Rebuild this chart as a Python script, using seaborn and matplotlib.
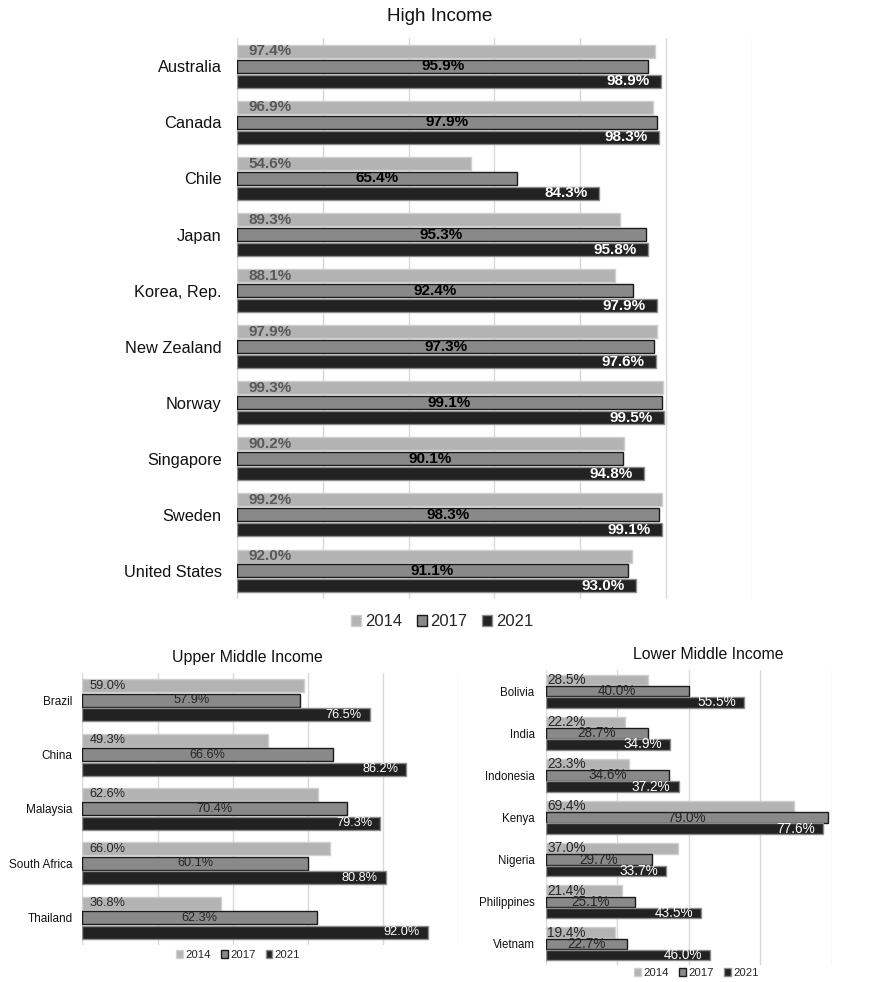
import matplotlib
matplotlib.use('Agg')
import matplotlib.pyplot as plt
from matplotlib.patches import Patch
import seaborn as sns
import pandas as pd

years = ['2014', '2017', '2021']

high_countries = ['Australia', 'Canada', 'Chile', 'Japan', 'Korea, Rep.',
                  'New Zealand', 'Norway', 'Singapore', 'Sweden', 'United States']
high_2014 = [97.4, 96.9, 54.6, 89.3, 88.1, 97.9, 99.3, 90.2, 99.2, 92.0]
high_2017 = [95.9, 97.9, 65.4, 95.3, 92.4, 97.3, 99.1, 90.1, 98.3, 91.1]
high_2021 = [98.9, 98.3, 84.3, 95.8, 97.9, 97.6, 99.5, 94.8, 99.1, 93.0]

upper_countries = ['Brazil', 'China', 'Malaysia', 'South Africa', 'Thailand']
upper_2014 = [59.0, 49.3, 62.6, 66.0, 36.8]
upper_2017 = [57.9, 66.6, 70.4, 60.1, 62.3]
upper_2021 = [76.5, 86.2, 79.3, 80.8, 92.0]

lower_countries = ['Bolivia', 'India', 'Indonesia', 'Kenya', 'Nigeria',
                   'Philippines', 'Vietnam']
lower_2014 = [28.5, 22.2, 23.3, 69.4, 37.0, 21.4, 19.4]
lower_2017 = [40.0, 28.7, 34.6, 79.0, 29.7, 25.1, 22.7]
lower_2021 = [55.5, 34.9, 37.2, 77.6, 33.7, 43.5, 46.0]

fill = {'2014': '#b3b3b3', '2017': '#898989', '2021': '#222222'}
edge = {'2014': '#cfcfcf', '2017': '#1a1a1a', '2021': '#8c8c8c'}

sns.set_style('white')
plt.rcParams['font.family'] = ['Liberation Sans', 'DejaVu Sans']


def make_df(countries, v14, v17, v21):
    rows = []
    for yr, vals in zip(years, [v14, v17, v21]):
        for c, v in zip(countries, vals):
            rows.append({'country': c, 'year': yr, 'value': v})
    return pd.DataFrame(rows)


def draw_panel(ax, df, countries, xmax, cat_size, val_size, bold,
               gap, lab_colors, pads, cat_pad):
    sns.barplot(data=df, y='country', x='value', hue='year', order=countries,
                hue_order=years, palette=fill, orient='h', width=0.8, gap=gap,
                saturation=1, errorbar=None, legend=False, linewidth=1, ax=ax)
    for yr, cont in zip(years, ax.containers):
        for rect in cont:
            rect.set_edgecolor(edge[yr])
            w = rect.get_width()
            yc = rect.get_y() + rect.get_height() / 2
            txt = f'{w:.1f}%'
            kw = dict(textcoords='offset points', va='center', fontsize=val_size,
                      color=lab_colors[yr],
                      fontweight='bold' if bold else 'normal')
            if yr == '2014':
                ax.annotate(txt, (rect.get_x(), yc), xytext=(pads[0], 0), ha='left', **kw)
            elif yr == '2017':
                ax.annotate(txt, (rect.get_x() + w / 2, yc), xytext=(0, 0), ha='center', **kw)
            else:
                ax.annotate(txt, (rect.get_x() + w, yc), xytext=(-pads[1], 0), ha='right', **kw)
    ax.set_xlim(0, xmax)
    ax.set_xticks(range(0, xmax + 1, 20))
    ax.set_xticklabels([])
    ax.grid(axis='x', color='#d9d9d9', lw=1)
    ax.grid(axis='y', visible=False)
    ax.set_axisbelow(True)
    ax.tick_params(length=0, pad=cat_pad)
    for lab in ax.get_yticklabels():
        lab.set_fontsize(cat_size)
        lab.set_color('#111111')
    ax.set_xlabel('')
    ax.set_ylabel('')
    sns.despine(ax=ax, left=True, bottom=True)


fig = plt.figure(figsize=(8.95, 9.82), dpi=100)

ax_hi = fig.add_axes([0.2648, 0.390, 0.575, 0.571])
ax_up = fig.add_axes([0.092, 0.0377, 0.420, 0.277])
ax_lo = fig.add_axes([0.6097, 0.0173, 0.3196, 0.3004])

draw_panel(ax_hi, make_df(high_countries, high_2014, high_2017, high_2021),
           high_countries, 120, 11.8, 11, True, 0.13,
           {'2014': '#595959', '2017': '#000000', '2021': '#ffffff'}, (8, 8), 11)
draw_panel(ax_up, make_df(upper_countries, upper_2014, upper_2017, upper_2021),
           upper_countries, 100, 8.5, 9.2, False, 0.1,
           {'2014': '#262626', '2017': '#262626', '2021': '#ffffff'}, (5, 6), 7)
draw_panel(ax_lo, make_df(lower_countries, lower_2014, lower_2017, lower_2021),
           lower_countries, 80, 8.3, 9.8, False, 0.06,
           {'2014': '#262626', '2017': '#262626', '2021': '#ffffff'}, (1, 6), 8)

fig.text(0.4916, 0.9827, 'High Income', ha='center', va='center', fontsize=13.6,
         color='#111111')
fig.text(0.276, 0.330, 'Upper Middle Income', ha='center', va='center',
         fontsize=11.4, color='#111111')
fig.text(0.791, 0.333, 'Lower Middle Income', ha='center', va='center',
         fontsize=11.4, color='#111111')

handles = [Patch(facecolor=fill[y], edgecolor=edge[y], label=y) for y in years]
leg_kw = dict(loc='center', ncol=3, frameon=False, handletextpad=0.2,
              handlelength=0.6, handleheight=0.6, columnspacing=0.9)
fig.legend(handles=handles, bbox_to_anchor=(0.494, 0.3666), fontsize=12, **leg_kw)
fig.legend(handles=handles, bbox_to_anchor=(0.266, 0.0275), fontsize=8.2, **leg_kw)
fig.legend(handles=handles, bbox_to_anchor=(0.778, 0.0092), fontsize=8.2, **leg_kw)

fig.savefig('out.png', dpi=100)
